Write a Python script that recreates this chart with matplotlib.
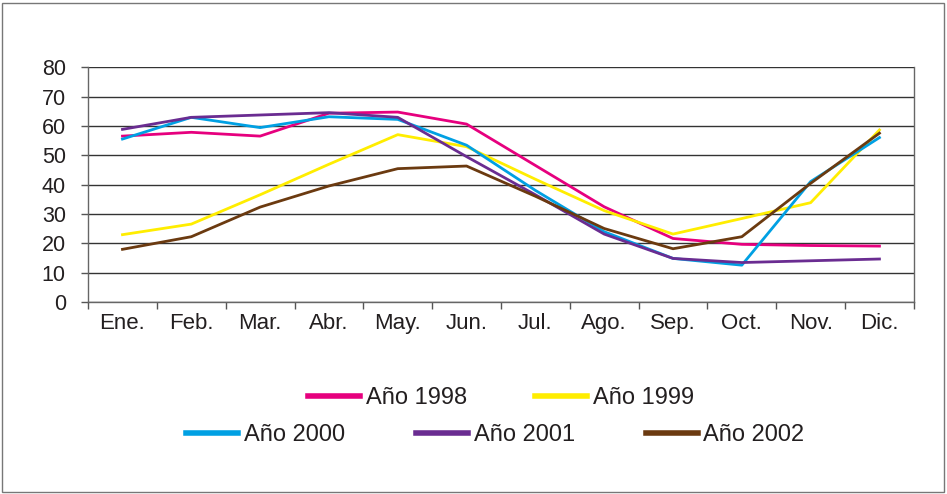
import numpy as np
import matplotlib.pyplot as plt
from matplotlib.patches import Rectangle

meses = ['Ene.', 'Feb.', 'Mar.', 'Abr.', 'May.', 'Jun.', 'Jul.', 'Ago.', 'Sep.', 'Oct.', 'Nov.', 'Dic.']
a1998 = [56.5, 57.8, 56.5, 64.3, 64.7, 60.6, 46.5, 32.4, 21.6, 19.6, 19.2, 19.0]
a1999 = [22.9, 26.5, 36.5, 46.9, 57.0, 52.9, 41.8, 31.1, 23.1, 28.4, 33.8, 58.6]
a2000 = [55.5, 62.9, 59.4, 63.1, 62.2, 53.4, 38.0, 23.9, 14.8, 12.5, 41.0, 56.0]
a2001 = [58.8, 62.9, 63.7, 64.5, 62.9, 49.5, 36.5, 23.1, 14.8, 13.4, 14.0, 14.6]
a2002 = [17.9, 22.2, 32.3, 39.5, 45.4, 46.3, 36.0, 25.0, 18.1, 22.2, 40.4, 57.5]

series = [('Año 1998', a1998, '#e6007e'),
          ('Año 1999', a1999, '#ffed00'),
          ('Año 2000', a2000, '#00a0e3'),
          ('Año 2001', a2001, '#6a2c91'),
          ('Año 2002', a2002, '#6b3a10')]

plt.rcParams['font.family'] = ['Liberation Sans', 'DejaVu Sans']

fig = plt.figure(figsize=(9.47, 4.94), dpi=100)
ax = fig.add_axes([0.093, 0.389, 0.872, 0.475])

x = np.arange(len(meses))
lines = []
for nombre, vals, col in series:
    l, = ax.plot(x, vals, color=col, lw=2, label=nombre)
    lines.append(l)

ax.set_xlim(-0.5, 11.5)
ax.set_ylim(0, 80)
ax.set_yticks(range(0, 81, 10))
ax.set_xticks(x)
ax.set_xticklabels(meses)
ax.set_xticks(np.arange(-0.5, 12, 1), minor=True)
ax.tick_params(axis='x', which='major', length=0, pad=8, labelsize=16, colors='#231f20')
ax.tick_params(axis='x', which='minor', length=5, width=1, color='#555555')
ax.tick_params(axis='y', length=5, width=1, color='#555555', labelsize=15.5, labelcolor='#231f20', pad=11)
ax.grid(axis='y', color='#333333', lw=1)
ax.set_axisbelow(True)
for s in ['left', 'bottom', 'right', 'top']:
    ax.spines[s].set_color('#666666')
    ax.spines[s].set_linewidth(1)
ax.spines['top'].set_visible(False)

leg1 = fig.legend(handles=lines[:2], loc='center', bbox_to_anchor=(0.529, 0.194), ncol=2,
                  frameon=False, fontsize=17, handlelength=2.2, handletextpad=0.25,
                  columnspacing=2.9, labelcolor='#231f20', borderpad=0, borderaxespad=0)
leg2 = fig.legend(handles=lines[2:], loc='center', bbox_to_anchor=(0.523, 0.119), ncol=3,
                  frameon=False, fontsize=17, handlelength=2.2, handletextpad=0.25,
                  columnspacing=3.0, labelcolor='#231f20', borderpad=0, borderaxespad=0)
for lg in (leg1, leg2):
    for h in lg.legend_handles:
        h.set_linewidth(4)

fig.patches.append(Rectangle((0.002, 0.004), 0.995, 0.99, transform=fig.transFigure,
                             fill=False, edgecolor='#777777', lw=1))

fig.savefig('out.png', dpi=100)
